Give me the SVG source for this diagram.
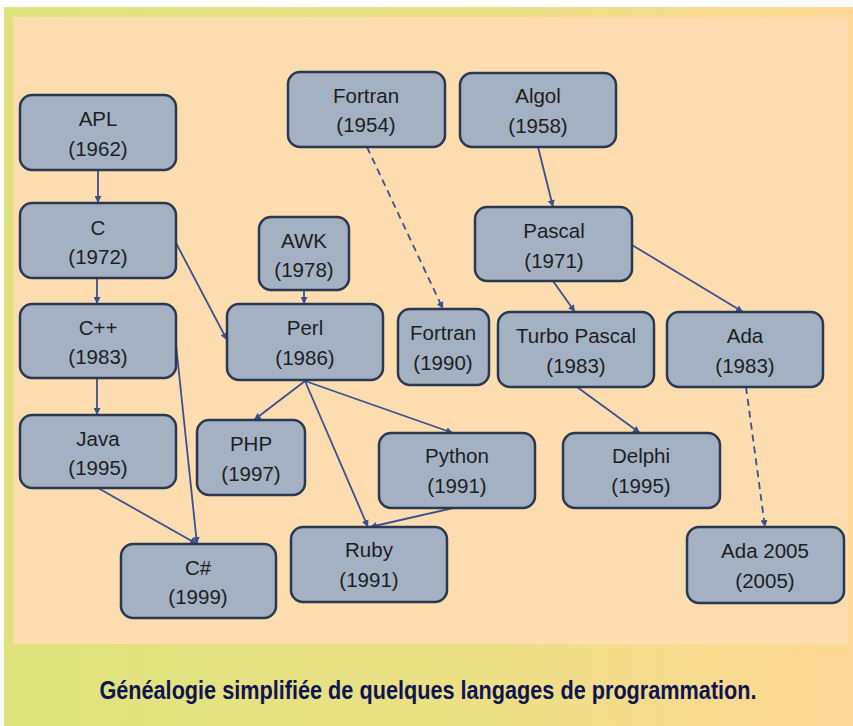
<svg xmlns="http://www.w3.org/2000/svg" width="853" height="726" viewBox="0 0 853 726">
<defs>
<linearGradient id="band" x1="0" y1="0" x2="1" y2="0">
<stop offset="0" stop-color="#dde37c"/>
<stop offset="0.55" stop-color="#ebe085"/>
<stop offset="1" stop-color="#fdd794"/>
</linearGradient>
<marker id="arr" viewBox="0 0 10 10" refX="10" refY="5" markerWidth="7" markerHeight="7" markerUnits="userSpaceOnUse" orient="auto">
<path d="M0,0 L10,5 L0,10 z" fill="#3c5090"/>
</marker>
</defs>
<style>
.node rect{fill:#a3b1c3;stroke:#2b3852;stroke-width:2.5}
.node text{font-family:"Liberation Sans",Arial,sans-serif;font-size:20.5px;fill:#1e1e1e;text-anchor:middle}
.edge{stroke:#3c5090;stroke-width:1.8;fill:none;marker-end:url(#arr)}
.dash{stroke-dasharray:7,5}
.cap{font-family:"Liberation Sans",Arial,sans-serif;font-size:22px;font-weight:bold;fill:#0f1450;text-anchor:middle}
</style>
<rect x="0" y="0" width="853" height="726" fill="#ffffff"/>
<rect x="4" y="7" width="849" height="719" fill="url(#band)"/>
<rect x="13" y="17" width="835" height="627" fill="#fddcb0"/>
<g id="connectors">
<line class="edge" x1="98" y1="170" x2="98" y2="203"/>
<line class="edge" x1="97" y1="278" x2="97" y2="304"/>
<line class="edge" x1="97" y1="378" x2="97" y2="415"/>
<line class="edge" x1="176" y1="243" x2="227" y2="340"/>
<line class="edge" x1="304" y1="290" x2="304" y2="304"/>
<line class="edge" x1="173" y1="316" x2="197" y2="544"/>
<line class="edge" x1="98" y1="488" x2="197" y2="544"/>
<line class="edge" x1="305" y1="381" x2="254" y2="420"/>
<line class="edge" x1="305" y1="381" x2="368" y2="527"/>
<line class="edge" x1="305" y1="381" x2="453" y2="433"/>
<line class="edge" x1="453" y1="508" x2="370" y2="527"/>
<line class="edge dash" x1="367" y1="147" x2="443" y2="309"/>
<line class="edge" x1="538" y1="147" x2="553" y2="207"/>
<line class="edge" x1="553" y1="281" x2="575" y2="312"/>
<line class="edge" x1="632" y1="245" x2="743" y2="312"/>
<line class="edge" x1="577" y1="387" x2="640" y2="433"/>
<line class="edge dash" x1="746" y1="387" x2="765" y2="527"/>
</g>
<g id="n-apl" class="node"><rect x="20" y="95" width="156" height="75" rx="12"/><text x="98" y="126">APL</text><text x="98" y="156">(1962)</text></g>
<g id="n-c" class="node"><rect x="20" y="203" width="156" height="75" rx="12"/><text x="98" y="235">C</text><text x="98" y="264">(1972)</text></g>
<g id="n-cpp" class="node"><rect x="20" y="304" width="156" height="74" rx="12"/><text x="98" y="335">C++</text><text x="98" y="364">(1983)</text></g>
<g id="n-java" class="node"><rect x="20" y="415" width="156" height="73" rx="12"/><text x="98" y="446">Java</text><text x="98" y="475">(1995)</text></g>
<g id="n-csharp" class="node"><rect x="121" y="544" width="155" height="74" rx="12"/><text x="198" y="575">C#</text><text x="198" y="604">(1999)</text></g>
<g id="n-awk" class="node"><rect x="259" y="217" width="90" height="73" rx="12"/><text x="304" y="248">AWK</text><text x="304" y="277">(1978)</text></g>
<g id="n-perl" class="node"><rect x="227" y="304" width="156" height="76" rx="12"/><text x="305" y="335">Perl</text><text x="305" y="365">(1986)</text></g>
<g id="n-php" class="node"><rect x="197" y="420" width="108" height="75" rx="12"/><text x="251" y="451">PHP</text><text x="251" y="481">(1997)</text></g>
<g id="n-python" class="node"><rect x="379" y="433" width="156" height="75" rx="12"/><text x="457" y="463">Python</text><text x="457" y="493">(1991)</text></g>
<g id="n-ruby" class="node"><rect x="291" y="527" width="156" height="75" rx="12"/><text x="369" y="557">Ruby</text><text x="369" y="587">(1991)</text></g>
<g id="n-fortran54" class="node"><rect x="288" y="72" width="157" height="75" rx="12"/><text x="366" y="103">Fortran</text><text x="366" y="132">(1954)</text></g>
<g id="n-fortran90" class="node"><rect x="398" y="309" width="91" height="76" rx="12"/><text x="443" y="340">Fortran</text><text x="443" y="370">(1990)</text></g>
<g id="n-algol" class="node"><rect x="460" y="73" width="156" height="74" rx="12"/><text x="538" y="103">Algol</text><text x="538" y="133">(1958)</text></g>
<g id="n-pascal" class="node"><rect x="475" y="207" width="157" height="74" rx="12"/><text x="554" y="238">Pascal</text><text x="554" y="268">(1971)</text></g>
<g id="n-turbo" class="node"><rect x="498" y="312" width="156" height="75" rx="12"/><text x="576" y="343">Turbo Pascal</text><text x="576" y="373">(1983)</text></g>
<g id="n-ada" class="node"><rect x="667" y="312" width="156" height="75" rx="12"/><text x="745" y="343">Ada</text><text x="745" y="373">(1983)</text></g>
<g id="n-delphi" class="node"><rect x="563" y="433" width="157" height="75" rx="12"/><text x="641" y="463">Delphi</text><text x="641" y="493">(1995)</text></g>
<g id="n-ada2005" class="node"><rect x="687" y="527" width="157" height="76" rx="12"/><text x="765" y="558">Ada 2005</text><text x="765" y="588">(2005)</text></g>
<text class="cap" transform="translate(428,699) scale(0.985,1.2)" x="0" y="0">Généalogie simplifiée de quelques langages de programmation.</text>
</svg>
